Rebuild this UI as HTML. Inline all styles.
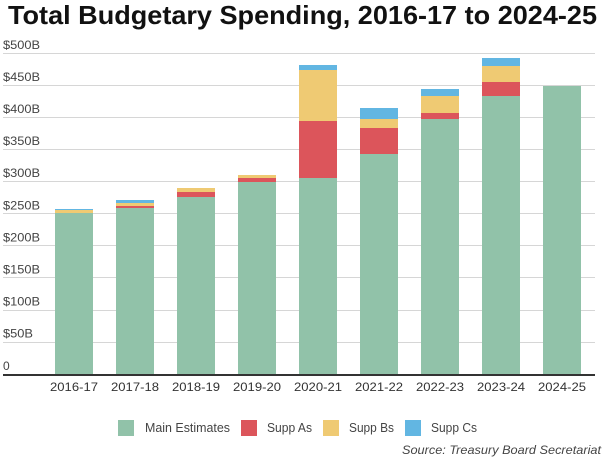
<!DOCTYPE html>
<html><head><meta charset="utf-8"><style>
html,body{margin:0;padding:0;background:#fff;}
svg{display:block;}
text{font-family:"Liberation Sans",sans-serif;}
</style></head><body>
<svg width="608" height="459" viewBox="0 0 608 459" xmlns="http://www.w3.org/2000/svg">
<rect width="608" height="459" fill="#fff"/>
<text x="8" y="24" font-size="26" font-weight="bold" fill="#111" textLength="589" lengthAdjust="spacingAndGlyphs">Total Budgetary Spending, 2016-17 to 2024-25</text>
<g fill="#d6d6d6">
<rect x="3" y="53" width="592" height="1"/>
<rect x="3" y="85" width="592" height="1"/>
<rect x="3" y="117" width="592" height="1"/>
<rect x="3" y="149" width="592" height="1"/>
<rect x="3" y="181" width="592" height="1"/>
<rect x="3" y="213" width="592" height="1"/>
<rect x="3" y="245" width="592" height="1"/>
<rect x="3" y="277" width="592" height="1"/>
<rect x="3" y="310" width="592" height="1"/>
<rect x="3" y="342" width="592" height="1"/>
</g>
<g font-size="12" fill="#444">
<text x="3" y="49" textLength="37" lengthAdjust="spacingAndGlyphs">$500B</text>
<text x="3" y="81" textLength="37" lengthAdjust="spacingAndGlyphs">$450B</text>
<text x="3" y="113" textLength="37" lengthAdjust="spacingAndGlyphs">$400B</text>
<text x="3" y="145" textLength="37" lengthAdjust="spacingAndGlyphs">$350B</text>
<text x="3" y="177" textLength="37" lengthAdjust="spacingAndGlyphs">$300B</text>
<text x="3" y="209.5" textLength="37" lengthAdjust="spacingAndGlyphs">$250B</text>
<text x="3" y="241.5" textLength="37" lengthAdjust="spacingAndGlyphs">$200B</text>
<text x="3" y="273.5" textLength="37" lengthAdjust="spacingAndGlyphs">$150B</text>
<text x="3" y="305.5" textLength="37" lengthAdjust="spacingAndGlyphs">$100B</text>
<text x="3" y="337.5" textLength="30" lengthAdjust="spacingAndGlyphs">$50B</text>
<text x="3" y="370">0</text>
</g>
<g>
<rect x="55" y="213" width="38" height="161" fill="#91c2a9"/>
<rect x="55" y="210" width="38" height="3" fill="#efca73"/>
<rect x="55" y="209" width="38" height="1" fill="#62b6e2"/>
<rect x="116" y="208" width="38" height="166" fill="#91c2a9"/>
<rect x="116" y="206" width="38" height="2" fill="#dc555b"/>
<rect x="116" y="203" width="38" height="3" fill="#efca73"/>
<rect x="116" y="200" width="38" height="3" fill="#62b6e2"/>
<rect x="177" y="197" width="38" height="177" fill="#91c2a9"/>
<rect x="177" y="192" width="38" height="5" fill="#dc555b"/>
<rect x="177" y="188" width="38" height="4" fill="#efca73"/>
<rect x="238" y="182" width="38" height="192" fill="#91c2a9"/>
<rect x="238" y="178" width="38" height="4" fill="#dc555b"/>
<rect x="238" y="175" width="38" height="3" fill="#efca73"/>
<rect x="299" y="178" width="38" height="196" fill="#91c2a9"/>
<rect x="299" y="121" width="38" height="57" fill="#dc555b"/>
<rect x="299" y="70" width="38" height="51" fill="#efca73"/>
<rect x="299" y="65" width="38" height="5" fill="#62b6e2"/>
<rect x="360" y="154" width="38" height="220" fill="#91c2a9"/>
<rect x="360" y="128" width="38" height="26" fill="#dc555b"/>
<rect x="360" y="119" width="38" height="9" fill="#efca73"/>
<rect x="360" y="108" width="38" height="11" fill="#62b6e2"/>
<rect x="421" y="119" width="38" height="255" fill="#91c2a9"/>
<rect x="421" y="113" width="38" height="6" fill="#dc555b"/>
<rect x="421" y="96" width="38" height="17" fill="#efca73"/>
<rect x="421" y="89" width="38" height="7" fill="#62b6e2"/>
<rect x="482" y="96" width="38" height="278" fill="#91c2a9"/>
<rect x="482" y="82" width="38" height="14" fill="#dc555b"/>
<rect x="482" y="66" width="38" height="16" fill="#efca73"/>
<rect x="482" y="58" width="38" height="8" fill="#62b6e2"/>
<rect x="543" y="86" width="38" height="288" fill="#91c2a9"/>
</g>
<rect x="3" y="374" width="592" height="2" fill="#333"/>
<g font-size="12" fill="#333" text-anchor="middle">
<text x="74" y="391" textLength="48" lengthAdjust="spacingAndGlyphs">2016-17</text>
<text x="135" y="391" textLength="48" lengthAdjust="spacingAndGlyphs">2017-18</text>
<text x="196" y="391" textLength="48" lengthAdjust="spacingAndGlyphs">2018-19</text>
<text x="257" y="391" textLength="48" lengthAdjust="spacingAndGlyphs">2019-20</text>
<text x="318" y="391" textLength="48" lengthAdjust="spacingAndGlyphs">2020-21</text>
<text x="379" y="391" textLength="48" lengthAdjust="spacingAndGlyphs">2021-22</text>
<text x="440" y="391" textLength="48" lengthAdjust="spacingAndGlyphs">2022-23</text>
<text x="501" y="391" textLength="48" lengthAdjust="spacingAndGlyphs">2023-24</text>
<text x="562" y="391" textLength="48" lengthAdjust="spacingAndGlyphs">2024-25</text>
</g>
<rect x="118" y="420" width="16" height="16" fill="#91c2a9"/>
<rect x="241" y="420" width="16" height="16" fill="#dc555b"/>
<rect x="323" y="420" width="16" height="16" fill="#efca73"/>
<rect x="405" y="420" width="16" height="16" fill="#62b6e2"/>
<g font-size="13" fill="#444">
<text x="145" y="432" textLength="85" lengthAdjust="spacingAndGlyphs">Main Estimates</text>
<text x="267" y="432" textLength="45" lengthAdjust="spacingAndGlyphs">Supp As</text>
<text x="349" y="432" textLength="45" lengthAdjust="spacingAndGlyphs">Supp Bs</text>
<text x="431" y="432" textLength="46" lengthAdjust="spacingAndGlyphs">Supp Cs</text>
</g>
<text x="402" y="454" font-size="12" font-style="italic" fill="#444" textLength="199" lengthAdjust="spacingAndGlyphs">Source: Treasury Board Secretariat</text>
</svg>
</body></html>
